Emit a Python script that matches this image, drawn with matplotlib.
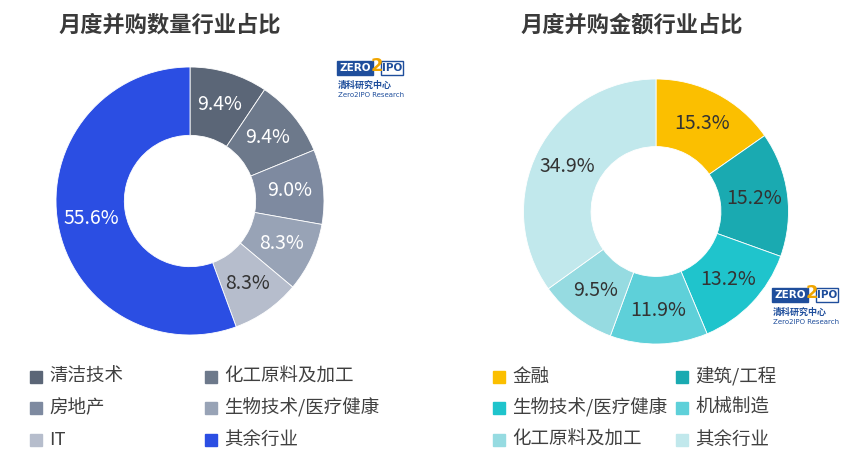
import matplotlib
matplotlib.use("Agg")
import matplotlib.pyplot as plt
import numpy as np
from matplotlib.patches import Rectangle

plt.rcParams['font.family'] = ['Noto Sans CJK SC', 'DejaVu Sans']

W, H = 854, 476

left_title = "月度并购数量行业占比"
left_labels = ["清洁技术", "化工原料及加工", "房地产", "生物技术/医疗健康", "IT", "其余行业"]
left_values = [9.4, 9.4, 9.0, 8.3, 8.3, 55.6]
left_colors = ["#5b6677", "#6d798b", "#7e8aa0", "#98a3b6", "#b6bdcc", "#2b4ee3"]
left_text_colors = ["white", "white", "white", "white", "#333333", "white"]

right_title = "月度并购金额行业占比"
right_labels = ["金融", "建筑/工程", "生物技术/医疗健康", "机械制造", "化工原料及加工", "其余行业"]
right_values = [15.3, 15.2, 13.2, 11.9, 9.5, 34.9]
right_colors = ["#fbbf00", "#1aaab1", "#1fc4cc", "#5ed0d9", "#96dbe1", "#c1e8ec"]
right_text_colors = ["#333333"] * 6

fig = plt.figure(figsize=(W / 100, H / 100), dpi=100)


def donut(cx, cy, r, values, colors, tcolors):
    ax = fig.add_axes([(cx - r) / W, (H - cy - r) / H, 2 * r / W, 2 * r / H])
    wedges, _ = ax.pie(
        values, colors=colors, startangle=90, counterclock=False,
        wedgeprops=dict(width=0.51, edgecolor="white", linewidth=0.6))
    for w, v, tc in zip(wedges, values, tcolors):
        ang = np.deg2rad((w.theta1 + w.theta2) / 2)
        ax.text(0.75 * np.cos(ang), 0.75 * np.sin(ang), f"{v:.1f}%",
                ha="center", va="center", fontsize=14, color=tc)
    ax.set_xlim(-1, 1)
    ax.set_ylim(-1, 1)
    ax.axis("off")
    return wedges


def logo(x, y):
    # x, y: top-left in pixels
    fig.patches.append(Rectangle(((x) / W, (H - y - 14) / H), 36 / W, 14 / H,
                                 transform=fig.transFigure, color="#1f4e9c"))
    fig.patches.append(Rectangle(((x + 44) / W, (H - y - 14) / H), 22 / W, 14 / H,
                                 transform=fig.transFigure, facecolor="white",
                                 edgecolor="#1f4e9c", linewidth=1))
    fig.text((x + 18) / W, (H - y - 7) / H, "ZERO", color="white", fontsize=7.5,
             fontweight="bold", ha="center", va="center", family="DejaVu Sans")
    fig.text((x + 40) / W, (H - y - 5) / H, "2", color="#f0a500", fontsize=13,
             fontweight="bold", ha="center", va="center", family="DejaVu Sans")
    fig.text((x + 55) / W, (H - y - 7) / H, "IPO", color="#1f4e9c", fontsize=7.5,
             fontweight="bold", ha="center", va="center", family="DejaVu Sans")
    fig.text((x + 1) / W, (H - y - 24) / H, "清科研究中心", color="#1f4e9c", fontsize=6.5,
             fontweight="bold", ha="left", va="center")
    fig.text((x + 1) / W, (H - y - 34) / H, "Zero2IPO Research", color="#1f4e9c",
             fontsize=5, ha="left", va="center", family="DejaVu Sans")


donut(190, 201, 134, left_values, left_colors, left_text_colors)
donut(656, 211.5, 132.5, right_values, right_colors, right_text_colors)

fig.text(170 / W, (H - 25) / H, left_title, fontsize=16, fontweight="bold",
         color="#3a3a3a", ha="center", va="center")
fig.text(632 / W, (H - 25) / H, right_title, fontsize=16, fontweight="bold",
         color="#3a3a3a", ha="center", va="center")

logo(337, 61)
logo(772, 288)


def legend(x0, x1, labels, colors):
    ys = [377, 408, 440]
    for i, (lab, c) in enumerate(zip(labels, colors)):
        col = i % 2
        row = i // 2
        x = x0 if col == 0 else x1
        y = ys[row]
        fig.patches.append(Rectangle((x / W, (H - y - 6) / H), 12 / W, 12 / H,
                                     transform=fig.transFigure, color=c))
        fig.text((x + 19) / W, (H - y) / H, lab, fontsize=13.3, color="#404040",
                 ha="left", va="center")


legend(30, 205, left_labels, left_colors)
legend(493, 676, right_labels, right_colors)

fig.savefig("out.png", dpi=100, facecolor="white")
